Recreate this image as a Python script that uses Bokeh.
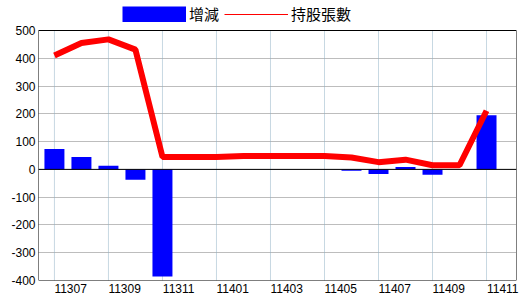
import math
from bokeh.plotting import figure
from bokeh.models import (ColumnDataSource, FixedTicker, Span, Legend, LegendItem,
                          BoxAnnotation)
from bokeh.embed import file_html
from bokeh.resources import INLINE

months = ["11307", "11308", "11309", "11310", "11311", "11312", "11401", "11402",
          "11403", "11404", "11405", "11406", "11407", "11408", "11409", "11410", "11411"]
change = [73, 45, 13, -37, -386, 0, 0, 0, 0, 0, 0, -5, -17, 9, -19, 0, 195]
holding = [410, 455, 468, 431, 45, 45, 45, 48, 48, 48, 48, 43, 26, 35, 15, 15, 211]
y_ticks = [-400, -300, -200, -100, 0, 100, 200, 300, 400, 500]

idx = list(range(len(months)))
src = ColumnDataSource(dict(x=idx, change=change, holding=holding))

y_lo, y_hi = y_ticks[0], y_ticks[-1]
units_per_px = (y_hi - y_lo) / 250.0
p = figure(width=520, height=300, output_backend="svg", toolbar_location=None,
           x_range=(-0.59, len(months) - 1 + 1.11),
           y_range=(y_lo, y_hi + 30 * units_per_px),
           min_border_left=38, min_border_right=4, min_border_top=0, min_border_bottom=20)

p.background_fill_color = "white"
p.border_fill_color = "white"
p.outline_line_color = None

# grids
p.xgrid.visible = False
p.segment(x0=idx[::2], y0=y_lo, x1=idx[::2], y1=y_hi,
          line_color="#8fb0c4", line_width=1, line_dash="1 1")
p.ygrid.ticker = FixedTicker(ticks=y_ticks)
p.ygrid.grid_line_color = "#7a7a7a"
p.ygrid.grid_line_dash = "1 1"

# axes
label_font = "'Liberation Sans Narrow', 'Liberation Sans', sans-serif"
p.xaxis.ticker = FixedTicker(ticks=[i + 0.6 for i in idx[::2]])
p.xaxis.major_label_overrides = {i + 0.6: months[i] for i in idx[::2]}
p.yaxis.ticker = FixedTicker(ticks=y_ticks)
p.yaxis.major_label_overrides = {t: str(t) for t in y_ticks}
for ax in (p.xaxis[0], p.yaxis[0]):
    ax.major_tick_out = 0
    ax.major_tick_in = 0
    ax.minor_tick_out = 0
    ax.minor_tick_in = 0
    ax.axis_line_color = None
    ax.major_label_text_font = label_font
    ax.major_label_text_font_size = "12px"
    ax.major_label_text_color = "black"
p.xaxis.major_label_standoff = 3
p.yaxis.major_label_standoff = 3

bars = p.vbar(x="x", top="change", bottom=0, width=0.74, source=src,
              fill_color="#0000ff", line_color=None)
p.add_layout(Span(location=0, dimension="width", line_color="black", line_width=1))
line = p.line(x="x", y="holding", source=src, line_color="#ff0000", line_width=6)

# plot border (frame edges, from -400 to 500)
p.add_layout(BoxAnnotation(bottom=y_lo, top=y_hi, fill_alpha=0, fill_color=None,
                           line_color="black", line_width=1, line_alpha=1))

# legend swatches (full-size blue block, thin red line)
legend_bar = p.line(x=[math.nan], y=[math.nan], line_color="#0000ff", line_width=16,
                    line_cap="butt")
legend_line = p.line(x=[math.nan], y=[math.nan], line_color="#ff0000", line_width=1)

legend = Legend(items=[LegendItem(label="增減", renderers=[legend_bar]),
                       LegendItem(label="持股張數", renderers=[legend_line])],
                orientation="horizontal", location=(84, 256),
                glyph_width=64, glyph_height=16, label_standoff=3, spacing=5,
                padding=0, margin=0, border_line_color=None, background_fill_alpha=0,
                label_text_font="Noto Sans CJK TC", label_text_font_size="15px",
                label_text_color="black", label_height=16)
p.add_layout(legend)

open("out.html", "w").write(file_html(p, INLINE))
